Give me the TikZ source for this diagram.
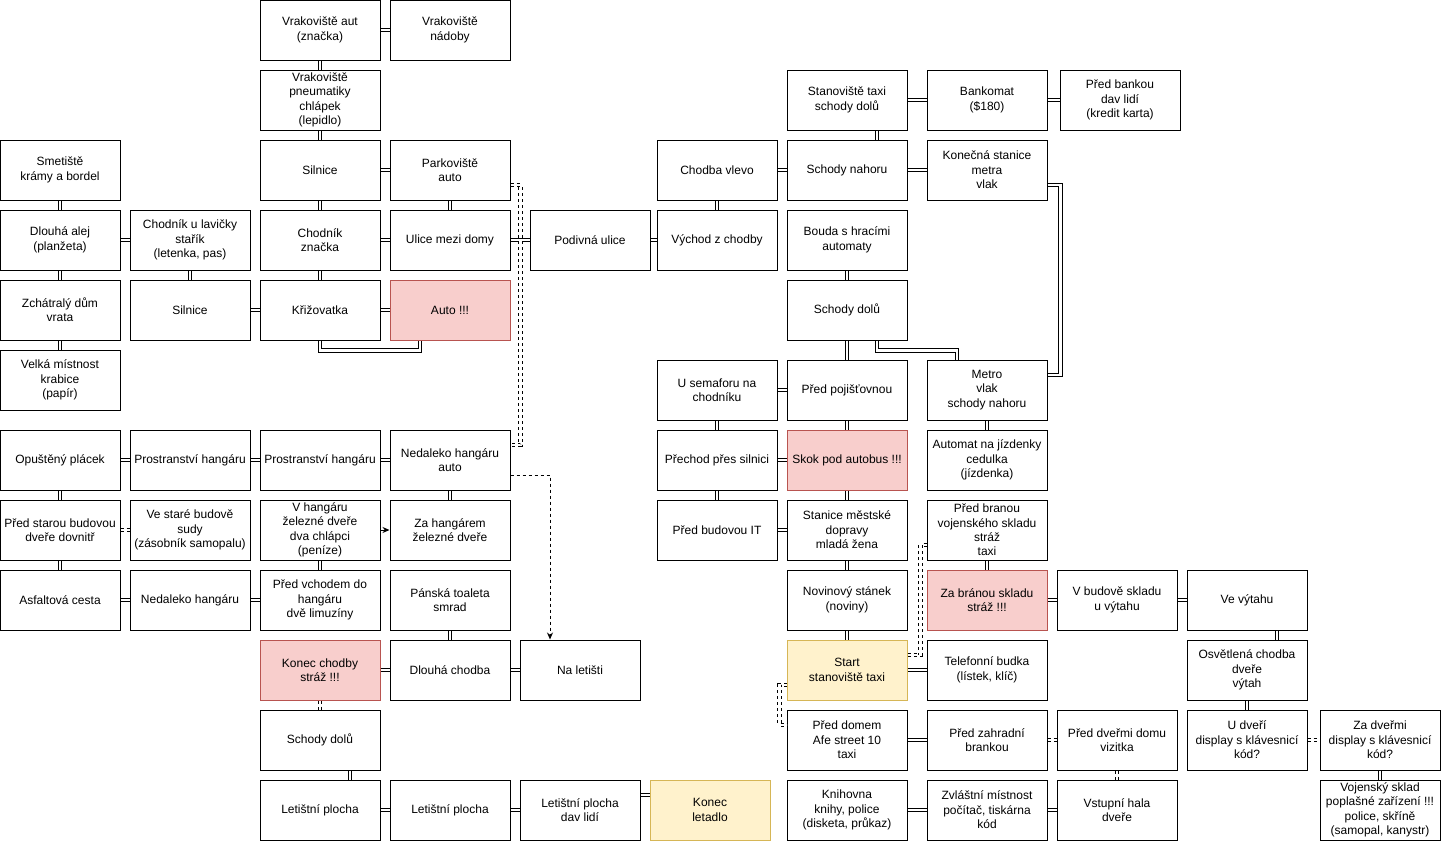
\documentclass[tikz,border=0pt]{standalone}
\usepackage{fontspec}
\setmainfont{Liberation Sans}
\usepackage{tikz}
\usetikzlibrary{arrows.meta}

\definecolor{redfill}{HTML}{F8CECC}
\definecolor{redline}{HTML}{B85450}
\definecolor{yellowfill}{HTML}{FFF2CC}
\definecolor{yellowline}{HTML}{D6B656}

\begin{document}
\begin{tikzpicture}[x=1pt, y=-1pt,
    room/.style={draw, fill=white, line width=1pt, minimum width=120pt, minimum height=60pt,
        inner sep=0pt, align=center, font=\fontsize{12}{14.4}\selectfont},
    danger/.style={room, fill=redfill, draw=redline},
    endpoint/.style={room, fill=yellowfill, draw=yellowline},
    link/.style={draw, line width=0.9pt, double, double distance=2.8pt},
    dlink/.style={link, dash pattern=on 3pt off 3pt},
    arr/.style={line width=1pt, -{Stealth[length=7pt, width=6pt]}}]
    \useasboundingbox (0,0) rectangle (1442,841);

    \node[room] (vrakaut) at (320,30) {Vrakoviště aut\\(značka)};
    \node[room] (vraknad) at (450,30) {Vrakoviště\\nádoby};
    \node[room] (vrakpneu) at (320,100) {Vrakoviště\\pneumatiky\\chlápek\\(lepidlo)};
    \node[room] (smetiste) at (60,170) {Smetiště\\krámy a bordel};
    \node[room] (silnice) at (320,170) {Silnice};
    \node[room] (parkoviste) at (450,170) {Parkoviště\\auto};
    \node[room] (alej) at (60,240) {Dlouhá alej\\(planžeta)};
    \node[room] (chodnikl) at (190,240) {Chodník u lavičky\\stařík\\(letenka, pas)};
    \node[room] (chodnikz) at (320,240) {Chodník\\značka};
    \node[room] (ulice) at (450,240) {Ulice mezi domy};
    \node[room] (podivna) at (590,240) {Podivná ulice};
    \node[room] (vychod) at (717,240) {Východ z chodby};
    \node[room] (chodba) at (717,170) {Chodba vlevo};
    \node[room] (schodyn) at (847,170) {Schody nahoru};
    \node[room] (konecna) at (987,170) {Konečná stanice\\metra\\vlak};
    \node[room] (stanovistet) at (847,100) {Stanoviště taxi\\schody dolů};
    \node[room] (bankomat) at (987,100) {Bankomat\\(\$180)};
    \node[room] (predbankou) at (1120,100) {Před bankou\\dav lidí\\(kredit karta)};
    \node[room] (bouda) at (847,240) {Bouda s hracími\\automaty};
    \node[room] (schodyd) at (847,310) {Schody dolů};
    \node[room] (zchatraly) at (60,310) {Zchátralý dům\\vrata};
    \node[room] (silnice2) at (190,310) {Silnice};
    \node[room] (krizovatka) at (320,310) {Křižovatka};
    \node[danger] (auto) at (450,310) {Auto !!!};
    \node[room] (velka) at (60,380) {Velká místnost\\krabice\\(papír)};
    \node[room] (semafor) at (717,390) {U semaforu na\\chodníku};
    \node[room] (pojistovna) at (847,390) {Před pojišťovnou};
    \node[room] (metro) at (987,390) {Metro\\vlak\\schody nahoru};
    \node[room] (placek) at (60,460) {Opuštěný plácek};
    \node[room] (prostr1) at (190,460) {Prostranství hangáru};
    \node[room] (prostr2) at (320,460) {Prostranství hangáru};
    \node[room] (nedauto) at (450,460) {Nedaleko hangáru\\auto};
    \node[room] (prechod) at (717,460) {Přechod přes silnici};
    \node[danger] (skok) at (847,460) {Skok pod autobus !!!};
    \node[room] (automat) at (987,460) {Automat na jízdenky\\cedulka\\(jízdenka)};
    \node[room] (predstarou) at (60,530) {Před starou budovou\\dveře dovnitř};
    \node[room] (vestare) at (190,530) {Ve staré budově\\sudy\\(zásobník samopalu)};
    \node[room] (vhangaru) at (320,530) {V hangáru\\železné dveře\\dva chlápci\\(peníze)};
    \node[room] (zahangarem) at (450,530) {Za hangárem\\železné dveře};
    \node[room] (predit) at (717,530) {Před budovou IT};
    \node[room] (stanice) at (847,530) {Stanice městské\\dopravy\\mladá žena};
    \node[room] (predbranou) at (987,530) {Před branou\\vojenského skladu\\stráž\\taxi};
    \node[room] (asfalt) at (60,600) {Asfaltová cesta};
    \node[room] (nedaleko) at (190,600) {Nedaleko hangáru};
    \node[room] (predvchodem) at (320,600) {Před vchodem do\\hangáru\\dvě limuzíny};
    \node[room] (toaleta) at (450,600) {Pánská toaleta\\smrad};
    \node[room] (novinovy) at (847,600) {Novinový stánek\\(noviny)};
    \node[danger] (zabranou) at (987,600) {Za bránou skladu\\stráž !!!};
    \node[room] (vbudove) at (1117,600) {V budově skladu\\u výtahu};
    \node[room] (vytah) at (1247,600) {Ve výtahu};
    \node[danger] (konecchodby) at (320,670) {Konec chodby\\stráž !!!};
    \node[room] (dlouhach) at (450,670) {Dlouhá chodba};
    \node[room] (naletisti) at (580,670) {Na letišti};
    \node[endpoint] (start) at (847,670) {Start\\stanoviště taxi};
    \node[room] (telefon) at (987,670) {Telefonní budka\\(lístek, klíč)};
    \node[room] (osvetlena) at (1247,670) {Osvětlená chodba\\dveře\\výtah};
    \node[room] (schodyd2) at (320,740) {Schody dolů};
    \node[room] (preddomem) at (847,740) {Před domem\\Afe street 10\\taxi};
    \node[room] (zahradni) at (987,740) {Před zahradní\\brankou};
    \node[room] (preddvermi) at (1117,740) {Před dveřmi domu\\vizitka};
    \node[room] (udveri) at (1247,740) {U dveří\\display s klávesnicí\\kód?};
    \node[room] (zadvermi) at (1380,740) {Za dveřmi\\display s klávesnicí\\kód?};
    \node[room] (plocha1) at (320,810) {Letištní plocha};
    \node[room] (plocha2) at (450,810) {Letištní plocha};
    \node[room] (plocha3) at (580,810) {Letištní plocha\\dav lidí};
    \node[endpoint] (konec) at (710,810) {Konec\\letadlo};
    \node[room] (knihovna) at (847,810) {Knihovna\\knihy, police\\(disketa, průkaz)};
    \node[room] (zvlastni) at (987,810) {Zvláštní místnost\\počítač, tiskárna\\kód};
    \node[room] (vstupni) at (1117,810) {Vstupní hala\\dveře};
    \node[room] (vojensky) at (1380,810) {Vojenský sklad\\poplašné zařízení !!!\\police, skříně\\(samopal, kanystr)};

    \draw[link] (vrakaut) -- (vraknad);
    \draw[link] (vrakaut) -- (vrakpneu);
    \draw[link] (vrakpneu) -- (silnice);
    \draw[link] (silnice) -- (parkoviste);
    \draw[link] (silnice) -- (chodnikz);
    \draw[link] (parkoviste) -- (ulice);
    \draw[link] (chodnikz) -- (ulice);
    \draw[link] (chodnikz) -- (krizovatka);
    \draw[link] (smetiste) -- (alej);
    \draw[link] (alej) -- (chodnikl);
    \draw[link] (alej) -- (zchatraly);
    \draw[link] (chodnikl) -- (silnice2);
    \draw[link] (silnice2) -- (krizovatka);
    \draw[link] (krizovatka) -- (auto);
    \draw[link] (krizovatka.south) -- ++(0,10) -| ([xshift=-30pt]auto.south);
    \draw[link] (zchatraly) -- (velka);
    \draw[link] (ulice) -- (podivna);
    \draw[link] (podivna) -- (vychod);
    \draw[link] (vychod) -- (chodba);
    \draw[link] (chodba) -- (schodyn);
    \draw[link] ([xshift=30pt]stanovistet.south) -- ([xshift=30pt]schodyn.north);
    \draw[link] (stanovistet) -- (bankomat);
    \draw[link] (bankomat) -- (predbankou);
    \draw[link] (schodyn) -- (konecna);
    \draw[link] ([yshift=-15pt]konecna.east) -- ++(13,0) |- ([yshift=15pt]metro.east);
    \draw[link] (bouda) -- (schodyd);
    \draw[link] (schodyd) -- (pojistovna);
    \draw[link] ([xshift=30pt]schodyd.south) -- ++(0,10) -| ([xshift=-30pt]metro.north);
    \draw[link] (semafor) -- (pojistovna);
    \draw[link] (semafor) -- (prechod);
    \draw[link] (pojistovna) -- (skok);
    \draw[link] (metro) -- (automat);
    \draw[link] (prechod) -- (skok);
    \draw[link] (prechod) -- (predit);
    \draw[link] (predit) -- (stanice);
    \draw[link] (skok) -- (stanice);
    \draw[link] (stanice) -- (novinovy);
    \draw[link] (novinovy) -- (start);
    \draw[link] (start) -- (telefon);
    \draw[link] (predbranou) -- (zabranou);
    \draw[link] (zabranou) -- (vbudove);
    \draw[link] (vbudove) -- (vytah);
    \draw[link] ([xshift=30pt]vytah.south) -- ([xshift=30pt]osvetlena.north);
    \draw[link] (osvetlena) -- (udveri);
    \draw[link] (zadvermi) -- (vojensky);
    \draw[link] (preddomem) -- (zahradni);
    \draw[link] (knihovna) -- (zvlastni);
    \draw[link] (zvlastni) -- (vstupni);
    \draw[link] (placek) -- (prostr1);
    \draw[link] (prostr1) -- (prostr2);
    \draw[link] (prostr2) -- (nedauto);
    \draw[link] (placek) -- (predstarou);
    \draw[link] (predstarou) -- (asfalt);
    \draw[link] (asfalt) -- (nedaleko);
    \draw[link] (nedaleko) -- (predvchodem);
    \draw[link] (vhangaru) -- (predvchodem);
    \draw[link] (nedauto) -- (zahangarem);
    \draw[link] (toaleta) -- (dlouhach);
    \draw[link] (konecchodby) -- (dlouhach);
    \draw[link] (dlouhach) -- (naletisti);
    \draw[link] ([xshift=30pt]schodyd2.south) -- ([xshift=30pt]plocha1.north);
    \draw[link] (plocha1) -- (plocha2);
    \draw[link] (plocha2) -- (plocha3);
    \draw[link] ([yshift=15pt]plocha3.east) -- ([yshift=15pt]konec.west);

    \draw[dlink] (predstarou) -- (vestare);
    \draw[dlink] (konecchodby) -- (schodyd2);
    \draw[dlink] ([yshift=-15pt]parkoviste.east) -- ++(10,0) |- ([yshift=15pt]nedauto.east);
    \draw[dlink] ([yshift=15pt]start.east) -- ++(13,0) |- ([yshift=-15pt]predbranou.west);
    \draw[dlink] ([yshift=-15pt]start.west) -- ++(-7,0) |- ([yshift=15pt]preddomem.west);
    \draw[dlink] (zahradni) -- (preddvermi);
    \draw[dlink] (preddvermi) -- (vstupni);
    \draw[dlink] (udveri) -- (zadvermi);

    \draw[arr] (vhangaru) -- (zahangarem);
    \draw[arr, dash pattern=on 3pt off 3pt] ([yshift=-15pt]nedauto.east) -| ([xshift=-30pt]naletisti.north);
  \end{tikzpicture}
\end{document}
